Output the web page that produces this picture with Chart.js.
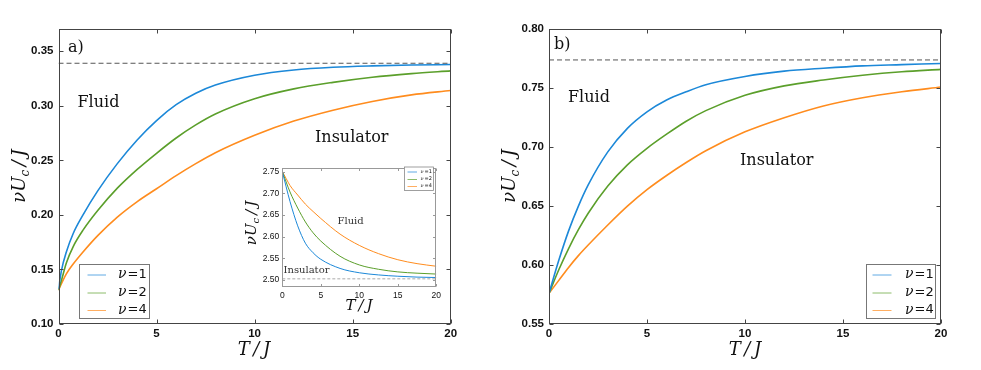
<!DOCTYPE html>
<html>
<head>
<meta charset="utf-8">
<script src="https://cdn.jsdelivr.net/npm/chart.js@4.4.1/dist/chart.umd.min.js"></script>
<style>
  html, body { margin: 0; padding: 0; background: #fff; }
  #wrap { position: relative; width: 981px; height: 370px; overflow: hidden; }
  canvas { position: absolute; }
</style>
</head>
<body>
<div id="wrap">
  <canvas id="chartA" width="490" height="370" style="left:0;top:0"></canvas>
  <canvas id="chartB" width="491" height="370" style="left:490px;top:0"></canvas>
  <canvas id="chartInset" width="215" height="155" style="left:230px;top:160px"></canvas>
</div>
<script>
// valeurs : nu*Uc/J en fonction de T/J

const seriesLabels = ["1", "2", "4"];
const seriesColors = ["#1c88d8", "#5b9f2b", "#ff8c1e"];

// panneau a)
const tA = [0, 0.15, 0.4, 0.75, 1.25, 2, 3, 4, 5, 6, 7, 8, 10, 12, 14, 16, 18, 20];
const a_nu1 = [0.132, 0.149, 0.166, 0.183, 0.200, 0.222, 0.247, 0.2685, 0.2865, 0.301, 0.3115, 0.319, 0.328, 0.3328, 0.3353, 0.3366, 0.3374, 0.3378];
const a_nu2 = [0.131, 0.140, 0.156, 0.171, 0.186, 0.204, 0.2245, 0.2415, 0.2565, 0.2705, 0.2825, 0.2925, 0.3065, 0.3155, 0.3215, 0.3262, 0.3295, 0.332];
const a_nu4 = [0.131, 0.137, 0.146, 0.155, 0.166, 0.181, 0.198, 0.212, 0.224, 0.236, 0.247, 0.257, 0.273, 0.286, 0.296, 0.304, 0.310, 0.314];
const limitA = 0.339;

// panneau b)
const tB = [0, 0.5, 1, 1.5, 2, 3, 4, 5, 6, 7, 8, 10, 12, 14, 16, 18, 20];
const b_nu1 = [0.576, 0.604, 0.629, 0.650, 0.668, 0.696, 0.716, 0.730, 0.740, 0.747, 0.753, 0.760, 0.7645, 0.767, 0.769, 0.770, 0.771];
const b_nu2 = [0.576, 0.596, 0.614, 0.630, 0.644, 0.667, 0.685, 0.699, 0.711, 0.722, 0.731, 0.744, 0.752, 0.757, 0.761, 0.764, 0.766];
const b_nu4 = [0.576, 0.587, 0.598, 0.608, 0.617, 0.634, 0.650, 0.664, 0.676, 0.687, 0.697, 0.713, 0.725, 0.735, 0.742, 0.747, 0.751];
const limitB = 0.774;

// encart du panneau a)
const tIn = [0, 0.5, 1, 2, 3, 4, 5, 7.5, 10, 12.5, 15, 17.5, 20];
const in_nu1 = [2.750, 2.715, 2.681, 2.625, 2.585, 2.563, 2.548, 2.527, 2.517, 2.512, 2.509, 2.507, 2.506];
const in_nu2 = [2.750, 2.726, 2.703, 2.666, 2.634, 2.609, 2.590, 2.555, 2.535, 2.525, 2.519, 2.516, 2.514];
const in_nu4 = [2.750, 2.734, 2.718, 2.696, 2.675, 2.658, 2.642, 2.606, 2.580, 2.561, 2.547, 2.538, 2.532];
const limitIn = 2.503;

// graduations
const xTicks = [0, 5, 10, 15, 20];
const yTicksA = [0.10, 0.15, 0.20, 0.25, 0.30, 0.35];
const yTicksB = [0.55, 0.60, 0.65, 0.70, 0.75, 0.80];
const yTicksIn = [2.50, 2.55, 2.60, 2.65, 2.70, 2.75];

function pts(xs, ys) {
  return xs.map((x, i) => ({ x: x, y: ys[i] }));
}

// dessine un texte composé de morceaux (indice etc.), centré en (cx, cy)
function drawRich(ctx, parts, cx, cy, rot) {
  ctx.save();
  ctx.translate(cx, cy);
  if (rot) ctx.rotate(rot);
  let total = 0;
  parts.forEach(p => { ctx.font = p.font; total += ctx.measureText(p.t).width; });
  let x = -total / 2;
  ctx.textBaseline = "alphabetic";
  ctx.textAlign = "left";
  parts.forEach(p => {
    ctx.font = p.font;
    ctx.fillStyle = p.color || "#111";
    ctx.fillText(p.t, x, (p.dy || 0) + p.base);
    x += ctx.measureText(p.t).width;
  });
  ctx.restore();
}

const decor = {
  id: "decor",
  beforeDraw(chart, args, o) {
    if (!o.fillArea) return;
    const a = chart.chartArea;
    chart.ctx.save();
    chart.ctx.fillStyle = "#fff";
    chart.ctx.fillRect(a.left, a.top, a.right - a.left, a.bottom - a.top);
    chart.ctx.restore();
  },
  afterDraw(chart, args, o) {
    const ctx = chart.ctx;
    const a = chart.chartArea;
    const sx = chart.scales.x, sy = chart.scales.y;
    ctx.save();

    // cadre
    ctx.strokeStyle = o.frameColor;
    ctx.lineWidth = 1;
    const L = Math.round(a.left) + 0.5, R = Math.round(a.right) - 0.5;
    const T = Math.round(a.top) + 0.5, B = Math.round(a.bottom) - 0.5;
    ctx.strokeRect(L, T, R - L, B - T);

    // graduations vers l'intérieur sur les quatre côtés
    ctx.beginPath();
    sx.ticks.forEach(t => {
      const px = Math.round(sx.getPixelForValue(t.value)) + 0.5;
      ctx.moveTo(px, B); ctx.lineTo(px, B - o.tickLen);
      ctx.moveTo(px, T); ctx.lineTo(px, T + o.tickLen);
    });
    sy.ticks.forEach(t => {
      const py = Math.round(sy.getPixelForValue(t.value)) + 0.5;
      ctx.moveTo(L, py); ctx.lineTo(L + o.tickLen, py);
      ctx.moveTo(R, py); ctx.lineTo(R - o.tickLen, py);
    });
    ctx.stroke();

    // annotations
    ctx.textBaseline = "middle";
    ctx.textAlign = "left";
    o.texts.forEach(t => {
      ctx.font = t.font;
      ctx.fillStyle = t.color || "#111";
      ctx.fillText(t.text, t.x, t.y);
    });

    // légende
    const lg = o.legend;
    ctx.fillStyle = "#fff";
    ctx.fillRect(lg.box[0], lg.box[1], lg.box[2] - lg.box[0], lg.box[3] - lg.box[1]);
    ctx.strokeStyle = lg.border;
    ctx.lineWidth = lg.borderWidth;
    ctx.strokeRect(lg.box[0] + 0.5, lg.box[1] + 0.5, lg.box[2] - lg.box[0], lg.box[3] - lg.box[1]);
    seriesLabels.forEach((lab, i) => {
      const y = lg.rows[i];
      ctx.strokeStyle = seriesColors[i];
      ctx.globalAlpha = 0.7;
      ctx.lineWidth = 1;
      ctx.beginPath();
      ctx.moveTo(lg.line[0], y + 0.5);
      ctx.lineTo(lg.line[1], y + 0.5);
      ctx.stroke();
      ctx.globalAlpha = 1;
      ctx.textBaseline = "middle";
      ctx.fillStyle = "#111";
      ctx.font = lg.nuFont;
      ctx.fillText("ν", lg.textX, y);
      const w = ctx.measureText("ν").width;
      ctx.font = lg.font;
      ctx.fillText("=" + lab, lg.textX + w + 1, y);
    });

    // titres des axes
    const ty = o.yTitle, tx = o.xTitle;
    drawRich(ctx, [
      { t: "νU", font: ty.font, base: ty.base },
      { t: "c", font: ty.subFont, base: ty.base, dy: ty.subDy },
      { t: "\u2009/\u2009J", font: ty.font, base: ty.base }
    ], ty.x, ty.y, -Math.PI / 2);
    drawRich(ctx, [{ t: "T\u2009/\u2009J", font: tx.font, base: tx.base }], tx.x, tx.y, 0);

    ctx.restore();
  }
};

function makeChart(id, cfg) {
  const datasets = [
    {
      data: pts([0, 20], [cfg.limit, cfg.limit]),
      borderColor: cfg.dashColor,
      borderWidth: 1,
      borderDash: cfg.dash
    }
  ];
  cfg.series.forEach((ys, i) => {
    datasets.push({
      data: pts(cfg.xs, ys),
      borderColor: seriesColors[i],
      borderWidth: cfg.lineWidth,
      cubicInterpolationMode: "monotone"
    });
  });

  return new Chart(document.getElementById(id), {
    type: "line",
    data: { datasets: datasets },
    plugins: [decor],
    options: {
      responsive: false,
      animation: false,
      devicePixelRatio: 1,
      layout: { padding: { top: cfg.pad.top, right: cfg.pad.right, left: 0, bottom: 0 } },
      elements: { point: { radius: 0 } },
      plugins: {
        legend: { display: false },
        tooltip: { enabled: false },
        decor: cfg.decor
      },
      scales: {
        x: {
          type: "linear",
          min: 0,
          max: 20,
          afterBuildTicks: s => { s.ticks = xTicks.map(v => ({ value: v })); },
          afterFit: s => { s.height = cfg.xAxisH; },
          grid: { display: false, drawTicks: false },
          border: { display: false },
          ticks: {
            padding: cfg.xPad,
            color: "#111",
            maxRotation: 0,
            font: cfg.tickFont,
            callback: v => String(v)
          }
        },
        y: {
          type: "linear",
          min: cfg.yMin,
          max: cfg.yMax,
          afterBuildTicks: s => { s.ticks = cfg.yTicks.map(v => ({ value: v })); },
          afterFit: s => { s.width = cfg.yAxisW; },
          grid: { display: false, drawTicks: false },
          border: { display: false },
          ticks: {
            padding: cfg.yPad,
            color: "#111",
            font: cfg.tickFont,
            callback: v => v.toFixed(2)
          }
        }
      }
    }
  });
}

const mainTick = { family: "'Liberation Sans', sans-serif", size: 11.5, weight: "bold" };
const bigTitle = { font: "italic 18px 'DejaVu Serif'", subFont: "italic 12px 'DejaVu Serif'", base: 6, subDy: 4 };

makeChart("chartA", {
  xs: tA,
  series: [a_nu1, a_nu2, a_nu4],
  limit: limitA,
  dash: [5, 3],
  dashColor: "#555",
  lineWidth: 1.6,
  yMin: 0.10,
  yMax: 0.3704,
  yTicks: yTicksA,
  pad: { top: 29, right: 39.3 },
  yAxisW: 58.5,
  xAxisH: 46,
  xPad: 3,
  yPad: 5,
  tickFont: mainTick,
  decor: {
    frameColor: "#444",
    tickLen: 4,
    texts: [
      { text: "a)", x: 68, y: 48, font: "16px 'DejaVu Serif'" },
      { text: "Fluid", x: 77.5, y: 103, font: "16px 'DejaVu Serif'" },
      { text: "Insulator", x: 315, y: 138, font: "16px 'DejaVu Serif'" }
    ],
    legend: {
      box: [79, 264, 149, 318], border: "#777", borderWidth: 1,
      line: [87.5, 106], rows: [274.5, 292.5, 310],
      textX: 118, nuFont: "italic 14px 'DejaVu Serif'", font: "13px 'DejaVu Sans'"
    },
    yTitle: Object.assign({ x: 19, y: 176 }, bigTitle),
    xTitle: { x: 254, y: 349, font: "italic 18px 'DejaVu Serif'", base: 6 }
  }
});

makeChart("chartB", {
  xs: tB,
  series: [b_nu1, b_nu2, b_nu4],
  limit: limitB,
  dash: [5, 3],
  dashColor: "#555",
  lineWidth: 1.6,
  yMin: 0.55,
  yMax: 0.80,
  yTicks: yTicksB,
  pad: { top: 29.3, right: 40 },
  yAxisW: 59,
  xAxisH: 46,
  xPad: 3,
  yPad: 5,
  tickFont: mainTick,
  decor: {
    frameColor: "#444",
    tickLen: 4,
    texts: [
      { text: "b)", x: 64, y: 45, font: "16px 'DejaVu Serif'" },
      { text: "Fluid", x: 78, y: 98, font: "16px 'DejaVu Serif'" },
      { text: "Insulator", x: 250, y: 161, font: "16px 'DejaVu Serif'" }
    ],
    legend: {
      box: [376, 264, 445, 318], border: "#777", borderWidth: 1,
      line: [382.5, 401.5], rows: [274.5, 292.5, 310],
      textX: 415, nuFont: "italic 14px 'DejaVu Serif'", font: "13px 'DejaVu Sans'"
    },
    yTitle: Object.assign({ x: 19, y: 176 }, bigTitle),
    xTitle: { x: 255, y: 349, font: "italic 18px 'DejaVu Serif'", base: 6 }
  }
});

makeChart("chartInset", {
  xs: tIn,
  series: [in_nu1, in_nu2, in_nu4],
  limit: limitIn,
  dash: [3, 2],
  dashColor: "#aaa",
  lineWidth: 1,
  yMin: 2.4835,
  yMax: 2.758,
  yTicks: yTicksIn,
  pad: { top: 5.7, right: 8.7 },
  yAxisW: 52.3,
  xAxisH: 27.7,
  xPad: 3,
  yPad: 3,
  tickFont: { family: "'Liberation Sans', sans-serif", size: 8.5 },
  decor: {
    fillArea: true,
    frameColor: "#999",
    tickLen: 2.5,
    texts: [
      { text: "Fluid", x: 107.5, y: 61, font: "10px 'DejaVu Serif'", color: "#333" },
      { text: "Insulator", x: 53.5, y: 110, font: "10px 'DejaVu Serif'", color: "#333" }
    ],
    legend: {
      box: [174, 6.5, 203, 30], border: "#888", borderWidth: 0.8,
      line: [177.5, 187], rows: [11.5, 19, 26],
      textX: 190.5, nuFont: "italic 5px 'DejaVu Serif'", font: "5px 'DejaVu Sans'"
    },
    yTitle: { x: 20.5, y: 63, font: "italic 15px 'DejaVu Serif'", subFont: "italic 10px 'DejaVu Serif'", base: 5, subDy: 3 },
    xTitle: { x: 129, y: 145, font: "italic 15px 'DejaVu Serif'", base: 5 }
  }
});
</script>
</body>
</html>
